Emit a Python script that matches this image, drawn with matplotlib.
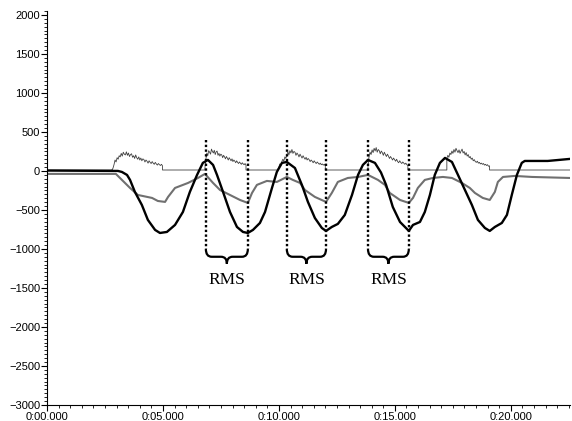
import numpy as np
import matplotlib
matplotlib.use("Agg")
import matplotlib.pyplot as plt
from matplotlib.path import Path
from matplotlib.patches import PathPatch
from matplotlib.ticker import MultipleLocator, FuncFormatter

plt.rcParams['font.family'] = ['Liberation Sans', 'DejaVu Sans']

# ---- data (time in s, signal in arbitrary units) ----

# thick black trace
black_t = [0.0, 3.06, 3.23, 3.45, 3.58, 3.79, 4.09, 4.35, 4.66, 4.87, 5.17, 5.52, 5.86,
           6.16, 6.47, 6.72, 6.94, 7.16, 7.33, 7.59, 7.89, 8.19, 8.45, 8.66, 8.88, 9.18,
           9.40, 9.70, 9.91, 10.13, 10.34, 10.69, 10.99, 11.25, 11.55, 11.85, 12.03, 12.28,
           12.54, 12.84, 13.15, 13.41, 13.62, 13.84, 14.14, 14.40, 14.62, 14.91, 15.22,
           15.52, 15.60, 15.78, 16.08, 16.29, 16.51, 16.72, 16.94, 17.16, 17.46, 17.72,
           18.02, 18.32, 18.58, 18.88, 19.09, 19.31, 19.61, 19.83, 20.04, 20.26, 20.47,
           20.60, 21.59, 22.54]
black_v = [5, 0, -13, -51, -115, -269, -436, -628, -756, -795, -782, -692, -526,
           -269, -51, 103, 141, 77, -51, -269, -526, -718, -782, -795, -756, -667,
           -526, -218, -13, 103, 115, 38, -179, -397, -603, -731, -769, -718,
           -679, -564, -308, -51, 77, 141, 103, -20, -179, -462, -654,
           -744, -769, -692, -654, -526, -308, -51, 103, 167, 115, -51,
           -244, -436, -628, -731, -769, -718, -667, -564, -308, -51, 103,
           128, 128, 154]

# medium grey trace
grey_t = [0.0, 2.97, 3.23, 3.58, 3.92, 4.53, 4.78, 5.09, 5.22, 5.52, 6.08, 6.51, 6.81,
          7.16, 7.46, 7.89, 8.32, 8.66, 8.84, 9.05, 9.48, 9.91, 10.34, 10.60, 10.91,
          11.12, 11.55, 12.03, 12.28, 12.54, 12.97, 13.41, 13.84, 14.27, 14.57, 14.78,
          15.22, 15.60, 15.78, 15.99, 16.29, 16.64, 17.07, 17.46, 17.89, 18.23, 18.45,
          18.79, 19.09, 19.31, 19.44, 19.66, 20.17, 20.91, 22.54]
grey_v = [-38, -38, -115, -218, -308, -346, -385, -397, -333, -218, -154, -90, -38,
          -154, -244, -308, -372, -410, -282, -179, -128, -141, -77, -115, -154,
          -244, -333, -397, -282, -141, -90, -77, -51, -115, -179, -282,
          -372, -410, -346, -218, -115, -90, -77, -90, -154, -218, -282,
          -346, -372, -269, -141, -77, -64, -77, -90]

# thin noisy trace: resting level and bursts
rest_level = 12
burst_windows = [(2.80, 4.98), (6.81, 8.58), (9.95, 12.00), (13.84, 15.56), (17.24, 19.08)]
burst_values = [
    [10, 35, 80, 140, 115, 170, 150, 195, 180, 225, 190, 240, 215, 205, 245, 200, 230,
     185, 210, 220, 175, 195, 160, 205, 170, 150, 180, 140, 165, 130, 155, 145, 115, 140,
     125, 100, 130, 110, 95, 120, 100, 85, 110, 90, 75, 95, 80, 70, 85, 65],
    [40, 150, 230, 195, 260, 240, 215, 280, 250, 230, 265, 210, 245, 255, 200, 225, 190,
     215, 205, 170, 200, 180, 155, 185, 165, 140, 170, 150, 130, 155, 120, 140, 125, 105,
     130, 110, 95, 115, 100, 85, 105, 90, 80, 95, 75],
    [20, 45, 90, 70, 120, 150, 125, 180, 160, 210, 245, 205, 260, 230, 275, 225, 250,
     240, 200, 230, 210, 180, 215, 190, 165, 195, 170, 150, 175, 140, 160, 145, 120, 140,
     125, 105, 130, 110, 95, 115, 100, 85, 100, 80, 90, 75, 85, 65],
    [60, 180, 240, 210, 270, 235, 290, 255, 300, 240, 275, 260, 220, 255, 235, 200, 240,
     210, 185, 215, 190, 160, 185, 165, 140, 165, 145, 125, 150, 120, 105, 130, 110, 95,
     115, 100, 85, 100, 80, 70],
    [160, 200, 175, 230, 210, 255, 225, 275, 240, 290, 260, 235, 270, 225, 255, 280, 230,
     250, 205, 235, 190, 210, 170, 185, 150, 165, 130, 145, 120, 110, 125, 100, 110, 90,
     100, 85, 95, 75, 85, 70, 80, 60, 65],
]

# RMS analysis windows (start, end) in s
rms_windows = [(6.85, 8.66), (10.34, 12.03), (13.84, 15.60)]

t_end = 22.55

# build the noisy trace
noisy_t = [0.0]
noisy_v = [rest_level]
for (t0, t1), vals in zip(burst_windows, burst_values):
    noisy_t += [t0] + list(np.linspace(t0, t1, len(vals))) + [t1]
    noisy_v += [rest_level] + vals + [rest_level]
noisy_t.append(t_end)
noisy_v.append(rest_level)

# ---- figure ----
fig = plt.figure(figsize=(5.72, 4.21), dpi=100)
ax = fig.add_axes([47 / 572, 16 / 421, 523 / 572, 394 / 421])

ax.plot(noisy_t, noisy_v, color='#404040', lw=0.6)
ax.plot(grey_t, grey_v, color='#707070', lw=1.5)
ax.plot(black_t, black_v, color='black', lw=1.7)

# dotted window markers and braces
for x1, x2 in rms_windows:
    for x in (x1, x2):
        ax.plot([x, x], [400, -1000], color='black', lw=1.7, dashes=(1, 1))
    xc = (x1 + x2) / 2
    r = 0.25
    verts = [(x1, -1000), (x1, -1100), (x1 + r, -1100),
             (xc - r, -1100), (xc, -1100), (xc, -1190),
             (xc, -1100), (xc + r, -1100),
             (x2 - r, -1100), (x2, -1100), (x2, -1000)]
    codes = [Path.MOVETO, Path.CURVE3, Path.CURVE3,
             Path.LINETO, Path.CURVE3, Path.CURVE3,
             Path.CURVE3, Path.CURVE3,
             Path.LINETO, Path.CURVE3, Path.CURVE3]
    ax.add_patch(PathPatch(Path(verts, codes), fill=False, lw=1.6, color='black'))
    ax.text(xc, -1400, 'RMS', ha='center', va='center', fontsize=12.5,
            family=['Liberation Serif', 'DejaVu Serif'])

ax.set_xlim(0, t_end)
ax.set_ylim(-3000, 2050)

ax.xaxis.set_major_locator(MultipleLocator(5))
ax.xaxis.set_minor_locator(MultipleLocator(0.5))
ax.xaxis.set_major_formatter(FuncFormatter(lambda t, p: f"0:{int(round(t)):02d}.000"))
ax.yaxis.set_major_locator(MultipleLocator(500))
ax.yaxis.set_minor_locator(MultipleLocator(50))

for s in ('top', 'right'):
    ax.spines[s].set_visible(False)
for s in ('left', 'bottom'):
    ax.spines[s].set_linewidth(0.8)

ax.tick_params(which='major', length=4, width=0.8, labelsize=8, pad=1)
ax.tick_params(which='minor', length=2.5, width=0.6)

fig.savefig('out.png', dpi=100)
